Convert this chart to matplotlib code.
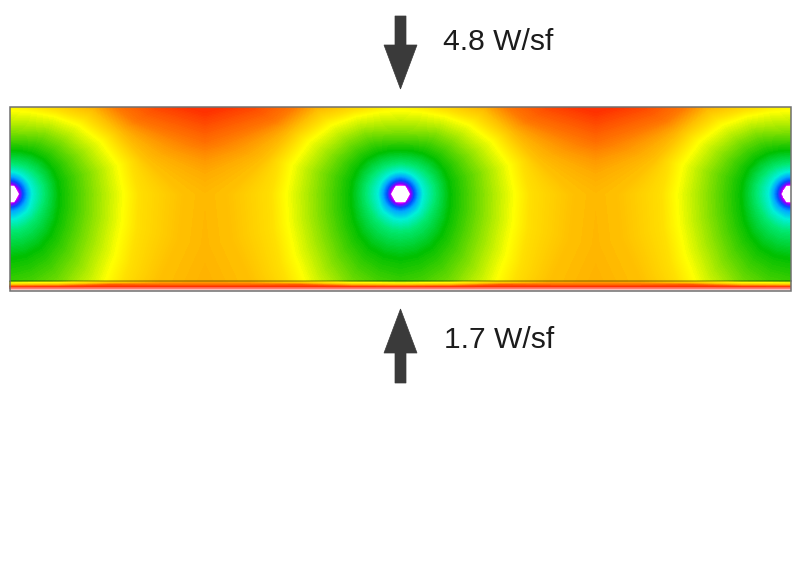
import matplotlib
matplotlib.use('Agg')
import matplotlib.pyplot as plt
from matplotlib.colors import LinearSegmentedColormap
from matplotlib.patches import Rectangle, RegularPolygon
import numpy as np

plt.rcParams['font.family'] = ['Liberation Sans', 'DejaVu Sans']

# ------------------------------------------------------------
# DATA: how far each colour band sits from a pipe
# bands: 0 magenta, 1 blue, 2 cyan, 3 green, 4 yellow, 5 orange, 6 red, 8 white
# directions: degrees from straight up, the other side is the mirror
# ------------------------------------------------------------
PIPE_X = [9.5, 400.5, 791.0]
PIPE_Y = 194

DIRECTION = [0, 15, 30, 45, 60, 75, 90, 105, 120, 135, 150, 165, 180]
BAND = [0, 0.5, 1, 1.5, 2, 2.5, 3, 3.5, 4, 4.5, 5, 5.5, 6, 6.02]
BAND_DIST = [
    [9, 9, 9, 9, 9, 9, 9, 9, 9, 9, 9, 9, 9],
    [11, 11, 11, 11, 11, 11, 11, 11, 11, 11, 11, 11, 11],
    [14, 14, 14, 14, 14, 14, 14, 14, 14, 14, 14, 14, 14],
    [18, 18, 18, 18, 18, 18, 18, 18, 18, 18, 18, 18, 18],
    [23, 23, 23, 23, 23, 23, 23, 23, 24, 25, 25, 26, 26],
    [31, 31, 32, 33, 34, 35, 35, 35, 35, 36, 37, 38, 38],
    [44, 45, 47, 49, 50, 50, 50, 51, 54, 58, 62, 64, 65],
    [62, 64, 70, 74, 78, 82, 82, 84, 88, 96, 105, 112, 118],
    [84, 85, 90, 98, 106, 113, 115, 117, 123, 133, 142, 150, 155],
    [95, 92, 97, 107, 116, 126, 130, 133, 140, 152, 162, 172, 182],
    [110, 104, 106, 118, 126, 140, 175, 176, 174, 178, 188, 197, 206],
    [125, 125, 128, 135, 146, 195, 400, 400, 400, 400, 400, 400, 400],
    [170, 175, 165, 170, 185, 260, 420, 420, 420, 420, 420, 420, 420],
    [440, 440, 440, 440, 440, 440, 440, 440, 440, 440, 440, 440, 440],
]

# thin layer under the slab
STRIP_DX = [0, 50, 100, 150, 195]
STRIP_Y = [281, 283, 285, 287, 288.5, 290, 291]
STRIP = [
    [3.30, 3.50, 4.20, 4.90, 5.00],
    [3.90, 4.10, 4.90, 5.25, 5.30],
    [5.00, 5.10, 5.70, 5.60, 5.60],
    [5.90, 5.95, 6.00, 6.00, 6.00],
    [6.80, 6.80, 6.80, 6.80, 6.80],
    [7.70, 7.70, 7.70, 7.70, 7.70],
    [7.90, 7.90, 7.90, 7.90, 7.90],
]

BAND_POS = [0, 0.5, 1, 1.5, 2, 2.5, 3, 4, 5, 6, 7, 8]
BAND_COL = ['#ff00ff', '#8000ff', '#0050ff', '#00a8ff', '#00f0d8', '#00e870',
            '#00c000', '#ffff00', '#ffc000', '#ff3000', '#ff9090', '#ffffff']

LOADS = ['4.8 W/sf', '1.7 W/sf']

C_ARROW = '#3a3a3a'
C_FRAME = '#707070'

cmap = LinearSegmentedColormap.from_list(
    'bands', [(p / BAND_POS[-1], c) for p, c in zip(BAND_POS, BAND_COL)], N=512)
levels = np.linspace(0, 8, 321)

fig = plt.figure(figsize=(8, 5.81), dpi=100)
ax = fig.add_axes([0, 0, 1, 1])
ax.set_xlim(0, 800)
ax.set_ylim(581, 0)
ax.axis('off')

# ------------------------------------------------------------
# SLAB: one polar field per pipe, clipped to its share of the slab
# ------------------------------------------------------------
dist = np.array(BAND_DIST, dtype=float)
dist = np.hstack([dist[:, :0:-1], dist])
theta = np.radians(np.concatenate([-np.array(DIRECTION[:0:-1]), DIRECTION]))
bands = np.tile(np.array(BAND)[:, None], (1, dist.shape[1]))

shares = [(10, 205), (205, 596), (596, 791)]
for px, (x0, x1) in zip(PIPE_X, shares):
    cs = ax.contourf(px + dist * np.sin(theta), PIPE_Y - dist * np.cos(theta), bands,
                     levels=levels, cmap=cmap, antialiased=False)
    cs.set_clip_path(Rectangle((x0, 107), x1 - x0, 174, transform=ax.transData))

# ------------------------------------------------------------
# STRIP below the slab, mirrored around the pipes
# ------------------------------------------------------------
dx = np.array(STRIP_DX, dtype=float)
half = np.array(STRIP)
strip_x = np.concatenate([PIPE_X[0] + dx, PIPE_X[1] - dx[::-1],
                          PIPE_X[1] + dx[1:], PIPE_X[2] - dx[::-1]])
strip_z = np.hstack([half, half[:, ::-1], half[:, 1:], half[:, ::-1]])
ax.contourf(strip_x, STRIP_Y, strip_z, levels=levels, cmap=cmap, antialiased=False)

# pipe openings
frame_clip = Rectangle((10, 107), 781, 184, transform=ax.transData)
for px in PIPE_X:
    hole = RegularPolygon((px, PIPE_Y), 6, radius=9.5, orientation=np.pi / 2,
                          facecolor='white', edgecolor='none', zorder=3)
    ax.add_patch(hole)
    hole.set_clip_path(frame_clip)

ax.plot([10, 791], [281, 281], color='black', alpha=0.28, lw=1.3, zorder=4)
ax.add_patch(Rectangle((10, 107), 781, 184, fill=False, edgecolor=C_FRAME, lw=1.1, zorder=5))

# heat flow arrows
arrow = dict(width=11, head_width=33, head_length=44, length_includes_head=True,
             facecolor=C_ARROW, edgecolor=C_ARROW, lw=0.5)
ax.arrow(400.5, 16, 0, 73, **arrow)
ax.arrow(400.5, 383, 0, -74, **arrow)

ax.text(443, 50, LOADS[0], ha='left', va='baseline', fontsize=21.6, color='#1c1c1c')
ax.text(444, 348, LOADS[1], ha='left', va='baseline', fontsize=21.6, color='#1c1c1c')

plt.savefig('out.png', dpi=100, facecolor='white')
plt.close()
